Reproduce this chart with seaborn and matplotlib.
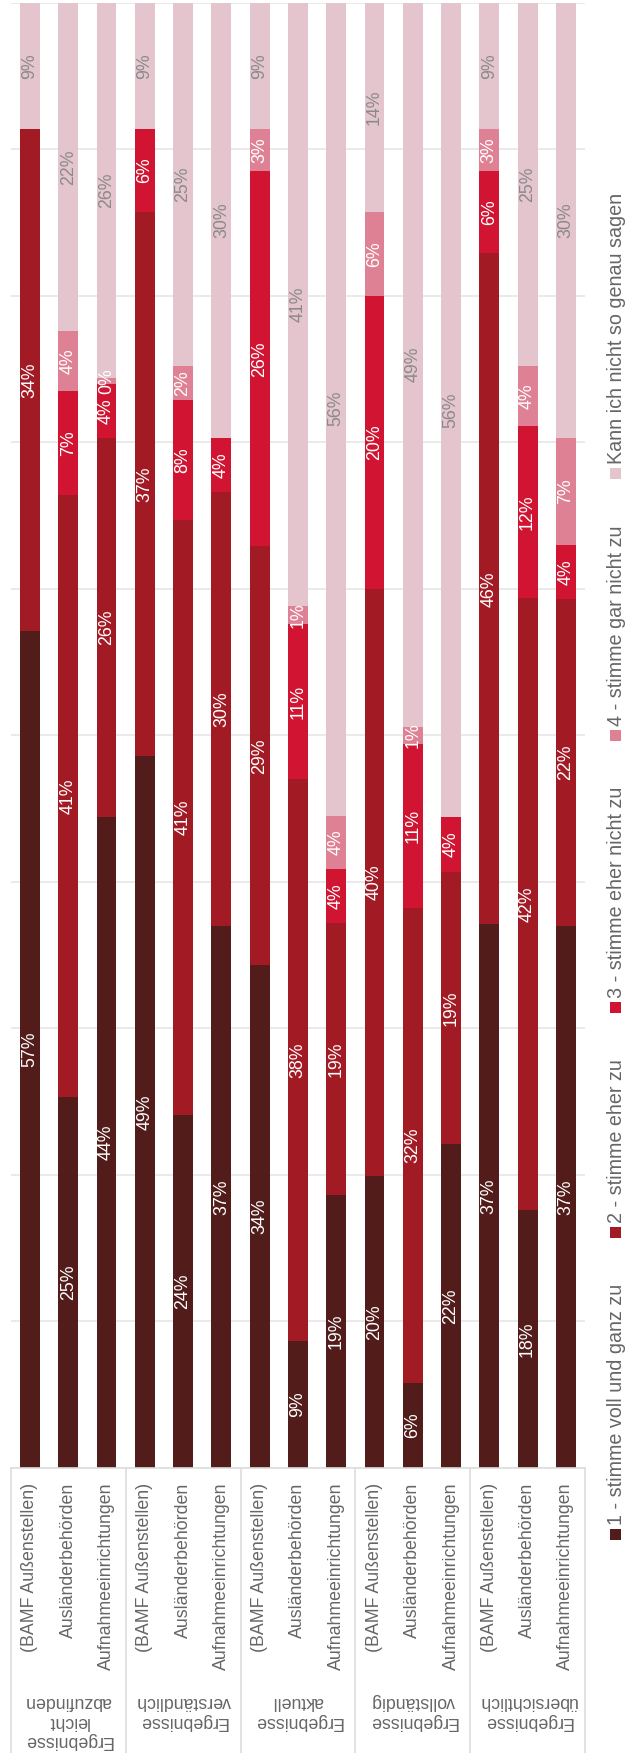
import numpy as np
import pandas as pd
import matplotlib
matplotlib.use("Agg")
import matplotlib.pyplot as plt
import seaborn as sns
from matplotlib.transforms import blended_transform_factory
from matplotlib.patches import Rectangle
from matplotlib.lines import Line2D

# ---------------- data ----------------
groups = ["Ergebnisse\nleicht\nabzufinden", "Ergebnisse\nverständlich", "Ergebnisse\naktuell",
          "Ergebnisse\nvollständig", "Ergebnisse\nübersichtlich"]
institutions = ["(BAMF Außenstellen)", "Ausländerbehörden", "Aufnahmeeinrichtungen"]
series_names = ["1 - stimme voll und ganz zu", "2 - stimme eher zu", "3 - stimme eher nicht zu",
                "4 - stimme gar nicht zu", "Kann ich nicht so genau sagen"]

s1 = [57.1, 25.3, 44.4, 48.6, 24.1, 37.0, 34.3, 8.7, 18.6, 19.9, 5.8, 22.1, 37.1, 17.6, 37.0]
s2 = [34.3, 41.1, 25.9, 37.1, 40.6, 29.6, 28.6, 38.3, 18.6, 40.1, 32.4, 18.6, 45.8, 41.8, 22.3]
s3 = [0.0, 7.1, 3.7, 5.7, 8.2, 3.7, 25.6, 10.6, 3.7, 20.0, 11.2, 3.7, 5.6, 11.7, 3.7]
s4 = [0.0, 4.1, 0.4, 0.0, 2.3, 0.0, 2.9, 1.2, 3.6, 5.7, 1.2, 0.0, 2.9, 4.1, 7.3]
s5 = [8.6, 22.4, 25.6, 8.6, 24.8, 29.7, 8.6, 41.2, 55.6, 14.3, 49.4, 55.6, 8.6, 24.8, 29.7]

colors = ["#521c1a", "#a21a23", "#d01431", "#df8194", "#e4c5cd"]
label_colors = ["white", "white", "white", "white", "#8a8a8a"]

# ---------------- layout ----------------
W, H = 629, 1753
FONT = "Liberation Sans"
FS = 12.8
LFS = 14.2

sns.set_theme(style="white")
plt.rcParams["font.family"] = [FONT, "DejaVu Sans"]

fig = plt.figure(figsize=(W / 100, H / 100), dpi=100)
ax_left, ax_right = 10.85, 585.0
ax_top, ax_bottom = 2.7, 1468.0
ax = fig.add_axes([ax_left / W, (H - ax_bottom) / H, (ax_right - ax_left) / W, (ax_bottom - ax_top) / H])

n = len(s1)
series = [s1, s2, s3, s4, s5]
vals = np.array(series)
cum = np.cumsum(vals, axis=0)

# stacked bars: draw cumulative totals from top layer down
for k in range(4, -1, -1):
    df = pd.DataFrame({"bar": np.arange(n), "value": cum[k]})
    sns.barplot(data=df, x="bar", y="value", color=colors[k], saturation=1, width=0.52,
                errorbar=None, linewidth=0, ax=ax, zorder=2)

ax.set_xlim(-0.5, n - 0.5)
ax.set_ylim(0, 100)
ax.set_yticks(np.arange(0, 101, 10))
ax.yaxis.grid(True, color="#e6e6e6", linewidth=1.2, zorder=0)
ax.set_axisbelow(True)
ax.tick_params(left=False, bottom=False, labelleft=False, labelbottom=False)
ax.set_xlabel("")
ax.set_ylabel("")
for sp in ax.spines.values():
    sp.set_visible(False)

# value labels
for i in range(n):
    bottom = 0.0
    for k in range(5):
        v = vals[k, i]
        if v > 0:
            ax.text(i, bottom + v / 2, f"{v:.0f}%", rotation=90, ha="center", va="center",
                    color=label_colors[k], fontsize=FS, family=FONT, zorder=5)
        bottom += v

# category axis box and labels
bt = blended_transform_factory(ax.transData, fig.transFigure)
line_col = "#dddddd"
y_box_top = (H - ax_bottom) / H
fig.add_artist(Line2D([ax_left / W, ax_right / W], [y_box_top, y_box_top], color=line_col, lw=1.2))
for xs in [-0.5, 2.5, 5.5, 8.5, 11.5, 14.5]:
    ax.add_line(Line2D([xs, xs], [0, y_box_top], transform=bt, color=line_col, lw=1.2, clip_on=False))

labels_y = (H - 1483) / H
for i in range(n):
    ax.text(i, labels_y, institutions[i % 3], transform=bt, rotation=90, ha="center", va="top",
            color="#666666", fontsize=FS, family=FONT)

group_y = (H - 1693) / H
for g, name in enumerate(groups):
    ax.text(g * 3 + 1, group_y, name, transform=bt, rotation=180, ha="center", va="top",
            multialignment="center", color="#666666", fontsize=FS, family=FONT, linespacing=1.2)

# legend (rotated, stacked bottom-to-top)
fig.canvas.draw()
renderer = fig.canvas.get_renderer()
sq = 11
x_sq = 610
y_cur = 1540.0
for k in range(5):
    fig.add_artist(Rectangle((x_sq / W, (H - y_cur) / H), sq / W, sq / H, transform=fig.transFigure,
                             facecolor=colors[k], edgecolor="none"))
    t = fig.text((x_sq + sq / 2 + 1) / W, (H - (y_cur - sq - 4)) / H, series_names[k], rotation=90,
                 ha="center", va="bottom", color="#666666", fontsize=LFS, family=FONT)
    h = t.get_window_extent(renderer).height
    y_cur = y_cur - sq - 4 - h - 46

fig.savefig("out.png", dpi=100)
